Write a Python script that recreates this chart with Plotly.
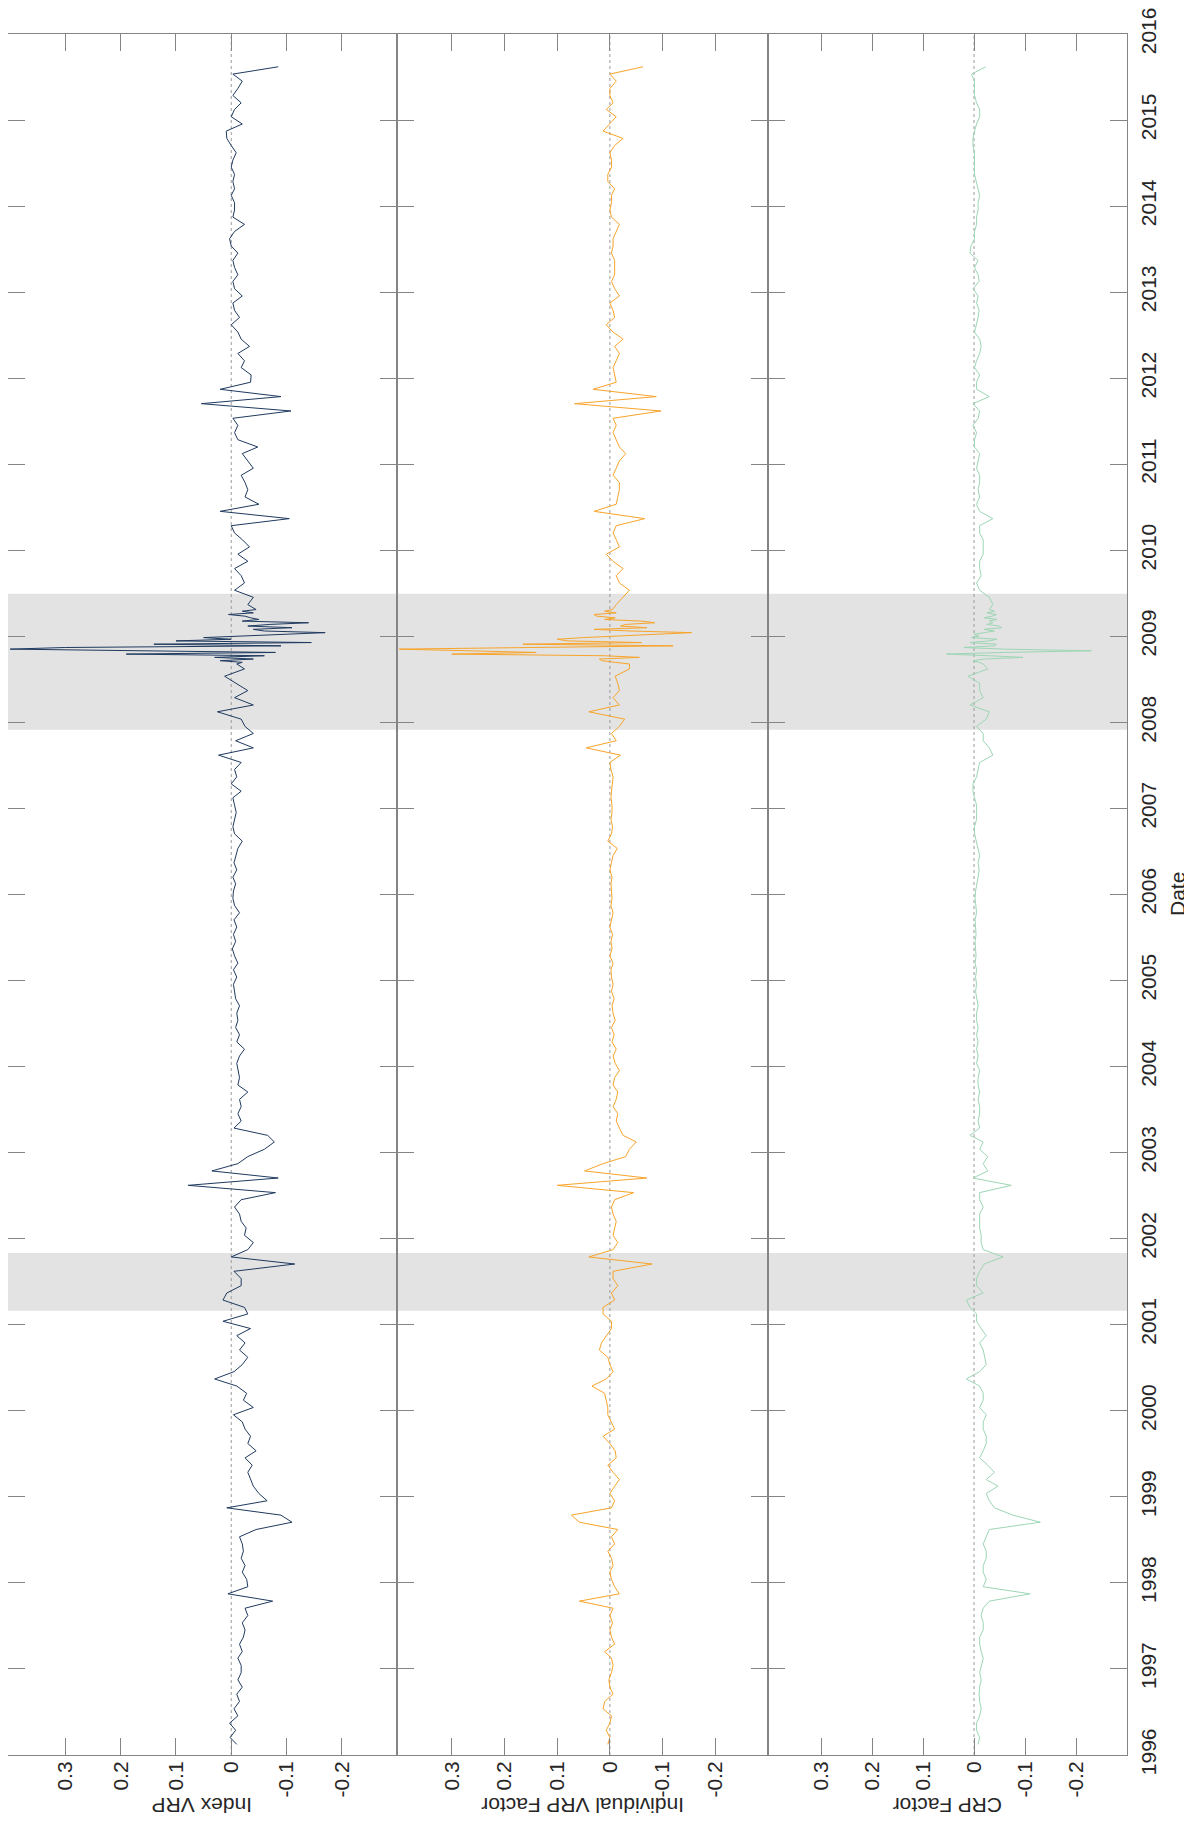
import pandas as pd
import plotly.graph_objects as go

# ---------------- data ----------------
def mid_months(start, end):
    return list(pd.date_range(start, end, freq="MS") + pd.Timedelta(days=14))

# monthly (mid-month) 1996-02 .. 2008-08, weekly 2008-09-05 .. 2009-04, monthly 2009-05 .. 2015-08
dates = (mid_months("1996-02-01", "2008-08-01")
         + list(pd.date_range("2008-09-05", periods=34, freq="7D"))
         + mid_months("2009-05-01", "2015-08-01"))

index_vrp = [
    -0.010, 0.002, -0.008, 0.003, -0.012, -0.005, -0.015, -0.010, -0.020, -0.012, -0.018,           # 1996
    -0.018, -0.012, -0.020, -0.015, -0.022, -0.025, -0.020, -0.030, -0.025, -0.075, 0.006, -0.030,  # 1997
    -0.028, -0.020, -0.025, -0.018, -0.022, -0.020, -0.015, -0.045, -0.110, -0.090, 0.008, -0.065,  # 1998
    -0.050, -0.040, -0.035, -0.030, -0.038, -0.025, -0.045, -0.030, -0.035, -0.025, -0.020, -0.004, # 1999
    -0.040, -0.022, -0.028, -0.010, 0.030, -0.005, -0.020, -0.030, -0.015, -0.025, -0.010, -0.035,  # 2000
    0.015, -0.030, -0.024, 0.015, 0.008, -0.018, -0.018, -0.005, -0.115, 0.000, -0.030, -0.040,     # 2001
    -0.024, -0.027, -0.018, -0.015, -0.006, -0.018, -0.080, 0.078, -0.085, 0.035, -0.012, -0.030,  # 2002
    -0.060, -0.078, -0.066, -0.005, -0.018, -0.012, -0.018, -0.015, -0.030, -0.012, -0.015, -0.012, # 2003
    -0.010, -0.015, -0.024, -0.010, -0.015, -0.008, -0.012, -0.010, -0.015, -0.008, -0.006, -0.004, # 2004
    -0.010, -0.004, -0.012, -0.006, -0.002, -0.008, -0.004, -0.010, -0.005, -0.015, -0.006, -0.003, # 2005
    -0.004, -0.008, -0.003, -0.010, -0.005, -0.008, -0.012, -0.020, -0.006, -0.003, -0.006, -0.009, # 2006
    -0.006, -0.003, -0.018, 0.000, -0.010, -0.006, -0.018, 0.023, -0.040, -0.008, -0.040, -0.025,  # 2007
    -0.018, 0.025, -0.040, -0.006, -0.030, -0.008, 0.012, -0.024,                                   # 2008 Jan-Aug
    -0.010, -0.020, 0.020, -0.040, 0.030, -0.060, 0.190, -0.080, 0.220, 0.400, 0.300, -0.090,       # weekly crisis
    0.140, -0.145, 0.100, 0.000, 0.050, -0.030, -0.080, -0.170, -0.060, -0.040, -0.110, -0.030,
    -0.070, -0.140, -0.020, -0.050, -0.035, -0.025, 0.005, -0.040, -0.020, -0.045,
    -0.030, -0.040, -0.006, -0.024, -0.018, -0.006, -0.030, -0.012,                                 # 2009 May-Dec
    -0.033, -0.020, -0.006, 0.000, -0.105, 0.020, -0.050, -0.025, -0.030, -0.025, -0.018, -0.040,   # 2010
    -0.030, -0.020, -0.048, -0.012, -0.006, -0.012, -0.003, -0.108, 0.054, -0.090, 0.020, -0.035,   # 2011
    -0.036, -0.018, -0.024, -0.012, -0.033, -0.018, -0.012, 0.000, -0.015, -0.006, -0.003, -0.020,  # 2012
    -0.006, -0.003, -0.012, -0.006, -0.003, -0.012, 0.000, 0.003, -0.006, -0.024, -0.003, -0.006,   # 2013
    -0.006, 0.000, -0.006, -0.003, -0.006, 0.000, -0.003, -0.009, 0.000, 0.008, 0.009, -0.020,      # 2014
    0.000, -0.006, -0.018, -0.003, -0.012, -0.020, -0.003, -0.085,                                  # 2015 Jan-Aug
]

individual_vrp = [
    0.004, 0.000, 0.007, 0.000, -0.003, 0.013, 0.010, -0.006, 0.000, 0.002, -0.003,                 # 1996
    -0.006, -0.003, 0.010, -0.009, -0.003, 0.000, -0.005, 0.000, -0.006, 0.058, -0.018, -0.009,     # 1997
    -0.003, 0.000, -0.006, -0.003, 0.004, -0.009, -0.003, -0.015, 0.058, 0.073, -0.003, -0.009,     # 1998
    0.000, -0.009, -0.018, -0.006, 0.004, -0.012, -0.010, 0.000, 0.013, -0.009, -0.003, 0.004,      # 1999
    0.004, 0.007, 0.010, 0.034, 0.007, -0.006, 0.000, 0.004, 0.020, 0.016, 0.007, -0.003,           # 2000
    -0.003, 0.013, 0.013, -0.009, -0.003, -0.015, -0.006, -0.006, -0.080, 0.040, -0.006, -0.015,   # 2001
    -0.006, -0.009, -0.012, -0.006, -0.003, -0.009, -0.045, 0.100, -0.070, 0.048, 0.013, -0.030,   # 2002
    -0.037, -0.050, -0.025, -0.018, -0.012, -0.015, -0.006, -0.012, -0.015, -0.006, -0.009, -0.018, # 2003
    -0.010, -0.006, -0.012, -0.004, -0.008, -0.003, -0.010, -0.006, -0.004, -0.008, -0.003, -0.006, # 2004
    -0.003, -0.002, -0.006, 0.000, -0.004, -0.002, -0.005, 0.000, -0.003, -0.006, -0.002, -0.004,  # 2005
    -0.003, -0.002, -0.004, 0.000, -0.003, -0.006, -0.014, 0.004, -0.003, -0.005, -0.002, -0.004,  # 2006
    -0.004, -0.002, -0.003, -0.005, -0.006, -0.002, 0.000, -0.020, 0.045, -0.012, -0.003, -0.018,  # 2007
    -0.028, 0.040, -0.018, -0.006, -0.018, -0.015, -0.010, -0.037,                                  # 2008 Jan-Aug
    -0.037, -0.010, 0.015, 0.020, -0.056, 0.010, 0.300, 0.140, 0.250, 0.400, 0.150, -0.120,        # weekly crisis
    0.165, -0.060, 0.080, 0.100, 0.050, -0.020, -0.100, -0.155, -0.040, 0.030, -0.070, -0.020,
    -0.030, -0.085, -0.060, 0.010, -0.010, 0.025, 0.030, -0.012, 0.010, -0.005,
    -0.012, -0.025, -0.037, -0.018, -0.012, -0.025, -0.006, 0.007,                                  # 2009 May-Dec
    -0.018, -0.012, -0.006, -0.012, -0.066, 0.030, -0.012, -0.015, -0.018, -0.018, -0.006, -0.012, # 2010
    -0.018, -0.030, -0.018, -0.012, -0.006, -0.012, -0.006, -0.097, 0.067, -0.088, 0.032, -0.012,  # 2011
    -0.009, -0.006, -0.012, -0.018, -0.009, -0.025, -0.006, 0.007, -0.009, -0.006, 0.000, -0.018,  # 2012
    -0.009, -0.003, -0.009, -0.009, -0.009, -0.003, -0.006, -0.006, -0.012, -0.018, -0.003, 0.000, # 2013
    -0.003, -0.003, -0.009, 0.004, 0.004, -0.003, -0.003, 0.000, -0.009, -0.025, 0.013, 0.000,     # 2014
    -0.012, 0.007, -0.006, 0.000, 0.000, -0.012, 0.000, -0.063,                                     # 2015 Jan-Aug
]

crp_factor = [
    -0.008, -0.011, -0.005, -0.005, -0.011, -0.014, -0.011, -0.010, -0.011, -0.014, -0.011,          # 1996
    -0.014, -0.018, -0.014, -0.011, -0.011, -0.018, -0.018, -0.014, -0.018, -0.030, -0.110, -0.018, # 1997
    -0.024, -0.018, -0.018, -0.024, -0.024, -0.018, -0.024, -0.030, -0.130, -0.076, -0.040, -0.030, # 1998
    -0.024, -0.047, -0.024, -0.040, -0.027, -0.011, -0.018, -0.024, -0.024, -0.018, -0.018, -0.024, # 1999
    -0.011, -0.018, -0.018, -0.011, 0.015, -0.011, -0.024, -0.021, -0.018, -0.011, -0.024, -0.014,  # 2000
    -0.005, -0.005, 0.008, 0.015, -0.018, -0.005, -0.005, -0.011, -0.020, -0.057, -0.018, -0.014,   # 2001
    -0.014, -0.011, -0.011, -0.011, -0.018, -0.011, -0.011, -0.073, 0.002, -0.027, -0.018, -0.027,  # 2002
    -0.011, -0.018, 0.008, -0.011, -0.008, -0.011, -0.011, -0.008, -0.011, -0.008, -0.008, -0.011,  # 2003
    -0.005, -0.008, -0.005, -0.008, -0.005, -0.008, -0.005, -0.005, -0.008, -0.005, -0.003, -0.005, # 2004
    -0.003, -0.005, -0.002, -0.004, -0.003, -0.002, -0.004, -0.003, -0.002, -0.005, -0.003, -0.002, # 2005
    -0.003, -0.006, -0.008, -0.010, -0.008, -0.011, -0.008, -0.005, -0.001, -0.001, -0.005, -0.005, # 2006
    -0.005, -0.001, 0.002, 0.002, -0.005, -0.008, -0.011, -0.037, -0.030, -0.018, -0.018, -0.005,   # 2007
    -0.024, -0.030, 0.008, -0.018, -0.011, -0.011, 0.012, -0.027,                                   # 2008 Jan-Aug
    -0.018, -0.010, 0.002, -0.020, -0.096, -0.030, 0.054, -0.060, -0.230, -0.060, 0.020, -0.040,    # weekly crisis
    -0.044, 0.008, -0.030, -0.045, 0.005, -0.010, 0.000, -0.020, -0.040, -0.020, -0.054, -0.050,
    -0.025, -0.037, -0.030, -0.045, -0.020, -0.035, -0.044, -0.025, -0.040, -0.030,
    -0.037, -0.030, -0.011, -0.005, -0.014, -0.011, -0.011, -0.018,                                 # 2009 May-Dec
    -0.018, -0.018, -0.011, -0.011, -0.037, -0.011, -0.005, -0.011, -0.008, -0.011, -0.011, -0.005, # 2010
    -0.008, -0.011, -0.001, -0.001, -0.005, 0.002, -0.008, -0.011, 0.002, -0.030, -0.005, -0.005,   # 2011
    -0.011, -0.001, -0.005, -0.011, -0.014, -0.011, -0.001, -0.005, -0.008, -0.010, -0.005, -0.008, # 2012
    0.002, -0.010, -0.008, -0.001, -0.008, 0.008, 0.006, -0.001, -0.001, -0.005, -0.005, -0.008,    # 2013
    -0.008, -0.011, -0.008, -0.005, -0.001, -0.001, -0.001, -0.001, 0.002, 0.002, -0.001, -0.005,   # 2014
    -0.011, -0.011, -0.005, -0.001, -0.001, -0.001, 0.005, -0.023,                                  # 2015 Jan-Aug
]

panel_titles = ["Index VRP", "Individual VRP Factor", "CRP Factor"]
value_ticks = [0.3, 0.2, 0.1, 0, -0.1, -0.2]
value_ticktext = ["0.3", "0.2", "0.1", "0", "-0.1", "-0.2"]
years = list(range(1996, 2017))
recessions = [("2001-03-01", "2001-11-01"), ("2007-12-01", "2009-06-30")]

for name, s in [("index", index_vrp), ("indiv", individual_vrp), ("crp", crp_factor)]:
    if len(s) != len(dates):
        raise SystemExit(f"{name}: {len(s)} values vs {len(dates)} dates")

# ---------------- layout geometry (page pixels) ----------------
W, H = 1192, 1832
OFF = 8                      # the page body offsets the figure by 8 px
panel_px = [(8, 397), (397, 768), (768, 1127)]
top_px, bot_px = 34, 1755
colors = ["#1f3a5f", "#f8a42a", "#9dd6b5"]
FONT = "Liberation Sans, Arial, Helvetica, sans-serif"
AX = "#858585"
TXT = "#262626"

def px_x(x):
    return max(0.0, (x - OFF) / W)

def px_y(y):
    return 1 - (y - OFF) / H

y_dom = [px_y(bot_px), px_y(top_px)]

fig = go.Figure()
series = [index_vrp, individual_vrp, crp_factor]
for i, (vals, col) in enumerate(zip(series, colors)):
    sfx = "" if i == 0 else str(i + 1)
    fig.add_trace(go.Scatter(x=vals, y=dates, mode="lines",
                             line=dict(color=col, width=1),
                             xaxis="x" + sfx, yaxis="y" + sfx,
                             showlegend=False, hoverinfo="skip"))

layout = dict(width=W, height=H, margin=dict(l=0, r=0, t=0, b=0, pad=0),
              paper_bgcolor="white", plot_bgcolor="white",
              font=dict(family=FONT, size=21, color=TXT), showlegend=False)

for i, (x0, x1) in enumerate(panel_px):
    sfx = "" if i == 0 else str(i + 1)
    layout["xaxis" + sfx] = dict(
        domain=[px_x(x0), px_x(x1)], range=[0.404, -0.300], anchor="y" + sfx,
        automargin=False, ticklabeloverflow="allow",
        tickmode="array", tickvals=value_ticks, ticktext=value_ticktext,
        tickangle=-90, ticks="inside", ticklen=17, tickcolor=AX, tickwidth=1,
        showline=True, linecolor=AX, linewidth=1, mirror="ticks",
        showgrid=False, zeroline=False, ticklabelstandoff=-3,
        tickfont=dict(family=FONT, size=21, color=TXT))
    ya = dict(
        domain=y_dom, type="date", range=["1995-12-31 20:00", "2016-01-01 04:00"], anchor="x" + sfx,
        automargin=False, ticklabeloverflow="allow",
        tickmode="array", tickvals=[f"{y}-01-01" for y in years], ticktext=[str(y) for y in years],
        ticks="inside", ticklen=17, tickcolor=AX, tickwidth=1,
        showline=True, linecolor=AX, linewidth=1, mirror="ticks",
        showgrid=False, zeroline=False, showticklabels=False,
        tickfont=dict(family=FONT, size=21, color=TXT))
    if i > 0:
        ya["matches"] = "y"
    if i == 2:
        ya.update(side="right", showticklabels=True, tickangle=-90, ticklabelstandoff=3)
    layout["yaxis" + sfx] = ya

shapes = []
for a, b in recessions:
    shapes.append(dict(type="rect", xref="paper", yref="y", x0=px_x(8), x1=px_x(1127),
                       y0=a, y1=b, fillcolor="#e3e3e3", line=dict(width=0), layer="below"))
for i in range(3):
    sfx = "" if i == 0 else str(i + 1)
    shapes.append(dict(type="line", xref="x" + sfx, yref="paper", x0=0, x1=0,
                       y0=y_dom[0], y1=y_dom[1],
                       line=dict(color="#9a9a9a", width=1, dash="dot"), layer="below"))
layout["shapes"] = shapes

annotations = []
for (x0, x1), t in zip(panel_px, panel_titles):
    annotations.append(dict(text=t, xref="paper", yref="paper", x=px_x((x0 + x1) / 2),
                            y=px_y(1806), textangle=180, showarrow=False,
                            xanchor="center", yanchor="middle",
                            font=dict(family=FONT, size=21, color=TXT)))
annotations.append(dict(text="Date", xref="paper", yref="paper", x=px_x(1178), y=px_y(894),
                        textangle=-90, showarrow=False, xanchor="center", yanchor="middle",
                        font=dict(family=FONT, size=21, color=TXT)))
layout["annotations"] = annotations

fig.update_layout(**layout)
fig.write_html("out.html")
